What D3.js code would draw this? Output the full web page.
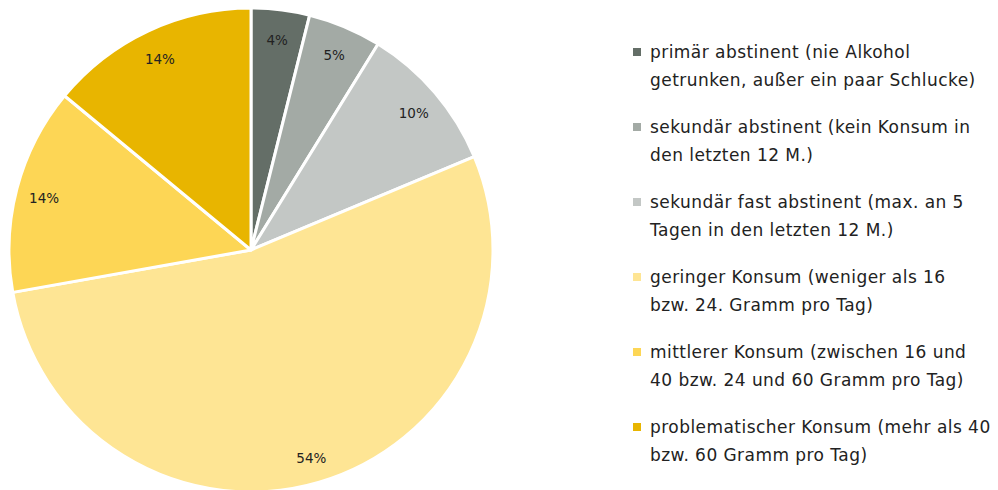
<!DOCTYPE html>
<html><head><meta charset="utf-8">
<script src="https://cdn.jsdelivr.net/npm/d3@7"></script>
<style>body{margin:0;background:#fff}svg{display:block}</style>
</head><body>
<script>
const categories = [
  ["primär abstinent (nie Alkohol", "getrunken, außer ein paar Schlucke)"],
  ["sekundär abstinent (kein Konsum in", "den letzten 12 M.)"],
  ["sekundär fast abstinent (max. an 5", "Tagen in den letzten 12 M.)"],
  ["geringer Konsum (weniger als 16", "bzw. 24. Gramm pro Tag)"],
  ["mittlerer Konsum (zwischen 16 und", "40 bzw. 24 und 60 Gramm pro Tag)"],
  ["problematischer Konsum (mehr als 40", "bzw. 60 Gramm pro Tag)"]
];
const values = [3.9, 4.9, 9.9, 53.5, 13.8, 14.0];
const labels = ["4%", "5%", "10%", "54%", "14%", "14%"];
const colors = ["#646e67", "#a3aaa5", "#c3c7c5", "#fee594", "#fdd655", "#e8b500"];

const W = 998, H = 490;
const svg = d3.select("body").append("svg").attr("width", W).attr("height", H);
const cx = 251, cy = 250, R = 242, rLab = 214;

const pie = d3.pie().sort(null).value(d => d)(values);
const arc = d3.arc().innerRadius(0).outerRadius(R);
const labArc = d3.arc().innerRadius(rLab).outerRadius(rLab);
const g = svg.append("g").attr("transform", `translate(${cx},${cy})`);
g.selectAll("path").data(pie).join("path")
  .attr("d", arc).attr("fill", (d, i) => colors[i])
  .attr("stroke", "#fff").attr("stroke-width", 3).attr("stroke-linejoin", "round");
g.selectAll("text").data(pie).join("text")
  .attr("transform", d => `translate(${labArc.centroid(d)})`)
  .attr("text-anchor", "middle").attr("dy", "0.55em")
  .attr("font-family", "DejaVu Sans").attr("font-size", 13.5).attr("fill", "#222")
  .text((d, i) => labels[i]);

const leg = svg.append("g").attr("transform", "translate(633,52)");
const items = leg.selectAll("g").data(categories).join("g")
  .attr("transform", (d, i) => `translate(0,${i * 75})`);
items.append("rect").attr("x", 0).attr("y", -4).attr("width", 8).attr("height", 8)
  .attr("fill", (d, i) => colors[i]);
items.append("text").attr("x", 17).attr("y", 0)
  .attr("font-family", "DejaVu Sans").attr("font-size", 17).attr("letter-spacing", 0.45).attr("fill", "#222")
  .selectAll("tspan").data(d => d).join("tspan")
  .attr("x", 17).attr("dy", (d, j) => j === 0 ? "0.35em" : 28)
  .text(d => d);
</script>
</body></html>
